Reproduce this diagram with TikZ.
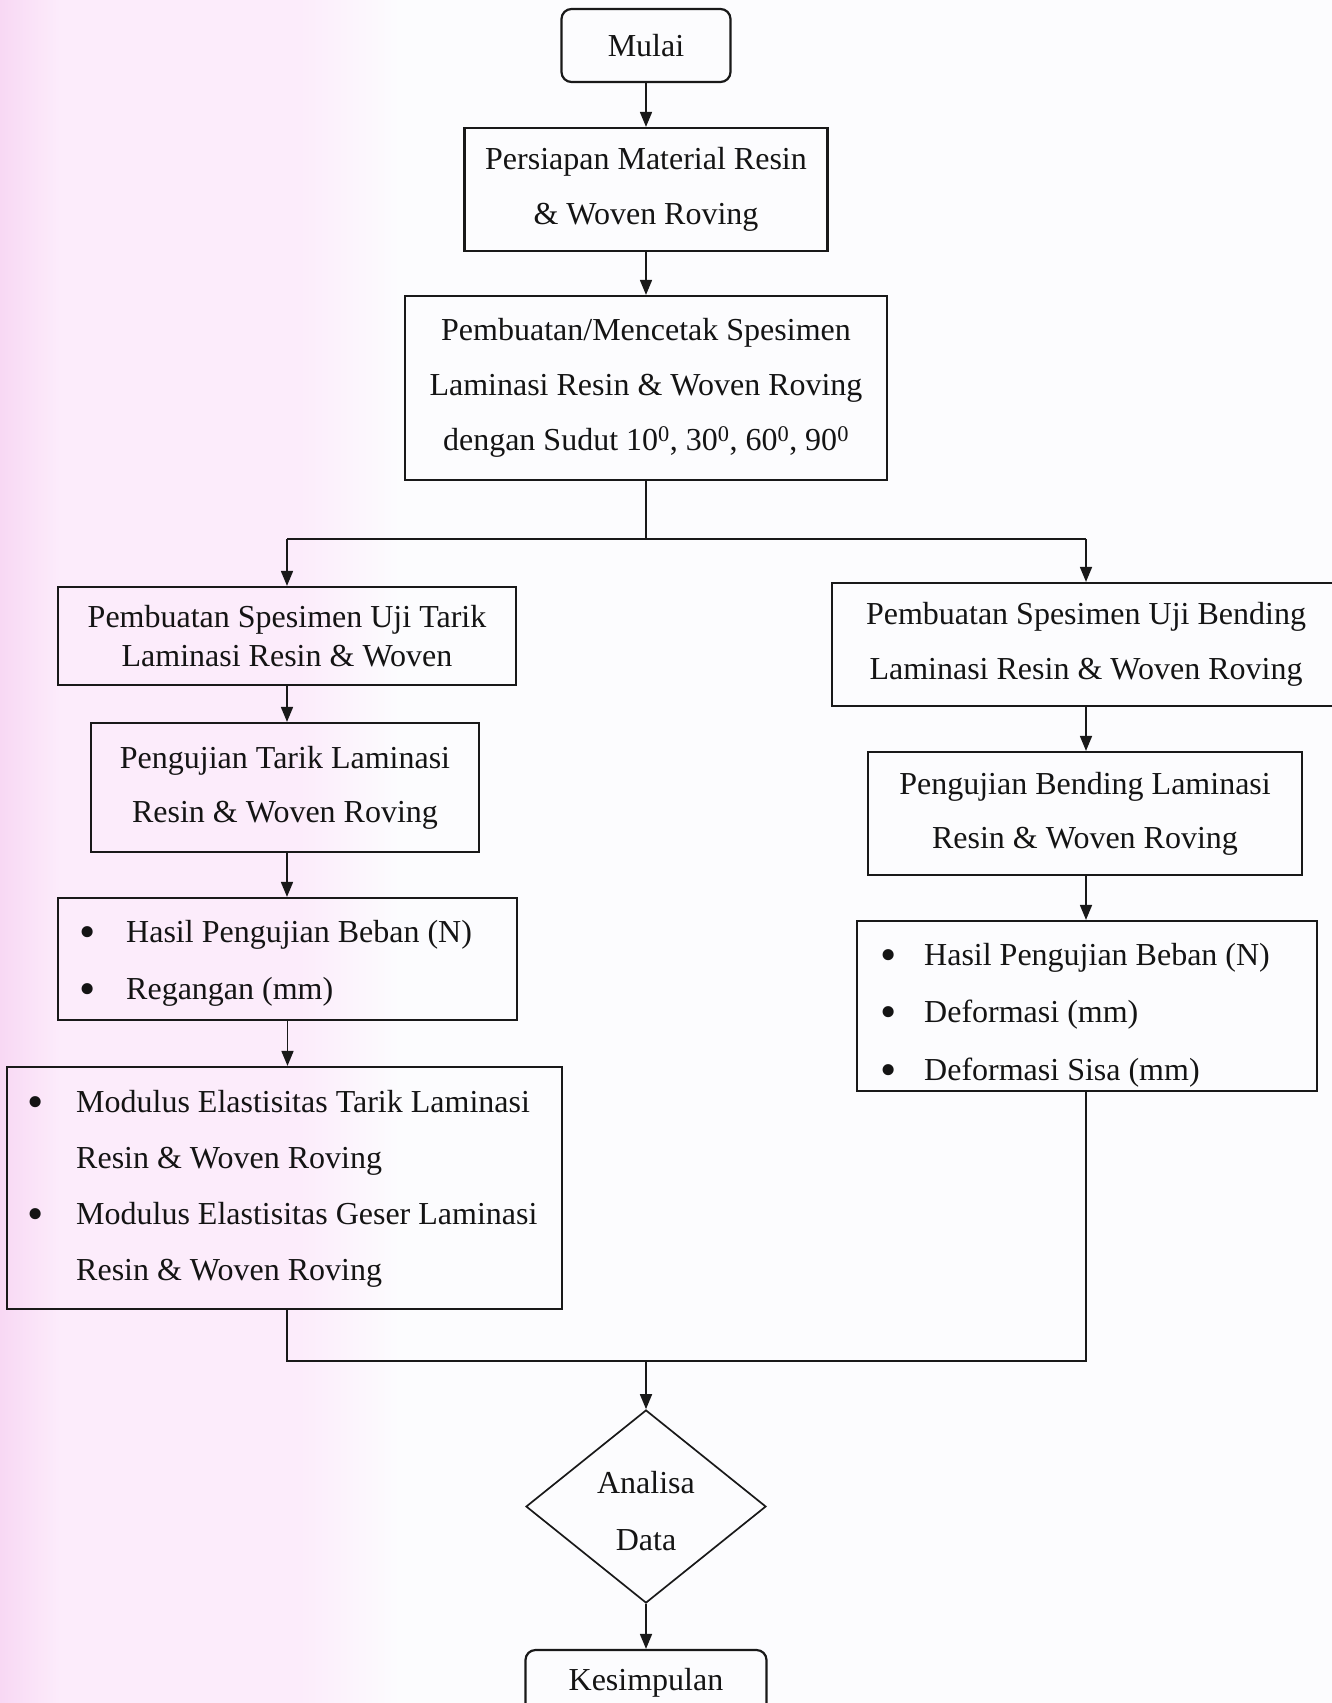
\documentclass[tikz,border=0pt]{standalone}
\usepackage{fontspec}
\setmainfont{Liberation Serif}
\usetikzlibrary{arrows.meta,shapes.geometric}
\definecolor{pinkA}{RGB}{248,216,244}
\definecolor{pinkB}{RGB}{252,236,251}
\definecolor{paper}{RGB}{252,252,254}
\newcommand{\blt}{\raisebox{-5pt}{\scalebox{1.45}{\textbullet}}}
\begin{document}
\begin{tikzpicture}[x=1pt,y=-1pt,
  box/.style={draw=black!90, line width=2.2pt, inner sep=0pt},
  rbox/.style={box, rounded corners=10pt},
  txt/.style={font=\fontsize{32}{55}\selectfont, align=center, inner sep=0pt, text=black!92},
  ltxt/.style={font=\fontsize{32}{57}\selectfont, align=left, inner sep=0pt, anchor=west, text=black!92},
  conn/.style={line width=1.7pt, draw=black!90},
  arr/.style={conn, -{Triangle[length=15pt,width=12pt]}}
]
% background
\fill[paper] (0,0) rectangle (1332,1703);
\shade[left color=pinkA, right color=pinkB] (0,0) rectangle (60,1703);
\fill[pinkB] (59,0) rectangle (300,1703);
\shade[left color=pinkB, right color=paper] (299,0) rectangle (400,1703);
\useasboundingbox (0,0) rectangle (1332,1703);

% top chain
\node[rbox, txt, minimum width=169pt, minimum height=73pt] (mulai) at (646,45.5) {Mulai};
\node[box, txt, minimum width=363pt, minimum height=123pt] (persiapan) at (646,189.5)
  {Persiapan Material Resin\\\& Woven Roving};
\node[box, txt, minimum width=482pt, minimum height=184pt] (pembuatan) at (646,388)
  {Pembuatan/Mencetak Spesimen\\Laminasi Resin \& Woven Roving\\dengan Sudut 10\textsuperscript{0}, 30\textsuperscript{0}, 60\textsuperscript{0}, 90\textsuperscript{0}};

\coordinate (split) at (646,539);
\coordinate (L) at (287,539);
\coordinate (R) at (1086,539);

% left column
\node[box, txt, font=\fontsize{32}{39}\selectfont, minimum width=458pt, minimum height=98pt] (tarik1) at (287,636)
  {Pembuatan Spesimen Uji Tarik\\Laminasi Resin \& Woven};
\node[box, txt, font=\fontsize{32}{54}\selectfont, minimum width=388pt, minimum height=129pt] (tarik2) at (285,787.5)
  {Pengujian Tarik Laminasi\\Resin \& Woven Roving};
\node[box, minimum width=459pt, minimum height=122pt] (hasil1) at (287.5,959) {};
\node[ltxt] (hasil1txt) at (79,963)
  {\makebox[47pt][l]{\blt}Hasil Pengujian Beban (N)\\
   \makebox[47pt][l]{\blt}Regangan (mm)};
\node[box, minimum width=555pt, minimum height=242pt] (modulus) at (284.5,1188) {};
\node[ltxt, font=\fontsize{32}{56}\selectfont] (modtxt) at (27,1189)
  {\makebox[49pt][l]{\blt}Modulus Elastisitas Tarik Laminasi\\
   \hspace*{49pt}Resin \& Woven Roving\\
   \makebox[49pt][l]{\blt}Modulus Elastisitas Geser Laminasi\\
   \hspace*{49pt}Resin \& Woven Roving};

% right column
\node[box, txt, minimum width=508pt, minimum height=123pt] (bending1) at (1086,644.5)
  {Pembuatan Spesimen Uji Bending\\Laminasi Resin \& Woven Roving};
\node[box, txt, font=\fontsize{32}{54}\selectfont, minimum width=434pt, minimum height=123pt] (bending2) at (1085,813.5)
  {Pengujian Bending Laminasi\\Resin \& Woven Roving};
\node[box, minimum width=460pt, minimum height=170pt] (hasil2) at (1087,1006) {};
\node[ltxt, font=\fontsize{32}{57.5}\selectfont] (hasil2txt) at (880,1015)
  {\makebox[44pt][l]{\blt}Hasil Pengujian Beban (N)\\
   \makebox[44pt][l]{\blt}Deformasi (mm)\\
   \makebox[44pt][l]{\blt}Deformasi Sisa (mm)};

% bottom
\coordinate (JL) at (287,1361);
\coordinate (JR) at (1086,1361);
\coordinate (J) at (646,1361);
\node[draw=black!90, diamond, line width=1.7pt, minimum width=240pt, minimum height=193pt, inner sep=0pt] (analisa) at (646,1506.5) {};
\node[txt, font=\fontsize{32}{57}\selectfont] (analisatxt) at (646,1511) {Analisa\\Data};
\node[rbox, txt, minimum width=241pt, minimum height=66pt] (kesimpulan) at (646,1683) {Kesimpulan};

% connectors
\draw[arr] (mulai) -- (persiapan);
\draw[arr] (persiapan) -- (pembuatan);
\draw[conn] (pembuatan.south) -- (split);
\draw[conn] (L) -- (R);
\draw[arr] (L) -- (tarik1.north);
\draw[arr] (R) -- (bending1.north);
\draw[arr] (tarik1.south) -- (tarik1.south |- tarik2.north);
\draw[arr] (tarik1.south |- tarik2.south) -- (tarik1.south |- hasil1.north);
\draw[arr] (hasil1.south) -- (hasil1.south |- modulus.north);
\draw[arr] (bending1.south) -- (bending1.south |- bending2.north);
\draw[arr] (bending1.south |- bending2.south) -- (bending1.south |- hasil2.north);
\draw[conn] (modulus.south -| JL) -- (JL) -- (JR) -- (hasil2.south -| JR);
\draw[arr] (J) -- (analisa.north);
\draw[arr] (analisa.south) -- (kesimpulan.north);
\end{tikzpicture}
\end{document}
